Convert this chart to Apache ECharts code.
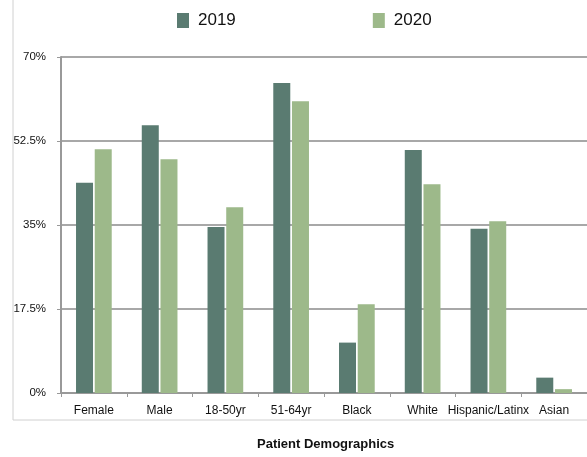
<!DOCTYPE html>
<html>
<head>
<meta charset="utf-8">
<script src="https://cdn.jsdelivr.net/npm/echarts@6/dist/echarts.min.js"></script>
<style>
  html, body { margin: 0; padding: 0; background: #fff; }
  #main { width: 587px; height: 457px; }
</style>
</head>
<body>
<div id="main"></div>
<script>
// 数据
var categories = ['Female', 'Male', '18-50yr', '51-64yr', 'Black', 'White', 'Hispanic/Latinx', 'Asian'];
var values2019 = [43.8, 55.8, 34.6, 64.6, 10.5, 50.6, 34.2, 3.2];
var values2020 = [50.8, 48.7, 38.7, 60.8, 18.5, 43.5, 35.8, 0.8];
var yTicks = ['0%', '17.5%', '35%', '52.5%', '70%'];

var font = '"Liberation Sans", Arial, sans-serif';

var myChart = echarts.init(document.getElementById('main'));

var option = {
  animation: false,
  title: {
    text: 'Patient Demographics',
    left: 257,
    top: 438,
    padding: 0,
    textStyle: { fontFamily: font, fontSize: 13, fontWeight: 'bold', color: '#111' }
  },
  legend: {
    top: 12,
    left: 177,
    padding: 0,
    itemGap: 137,
    itemWidth: 12,
    itemHeight: 15,
    icon: 'rect',
    data: ['2019', '2020'],
    textStyle: { fontFamily: font, fontSize: 17, color: '#111', padding: [0, 0, 0, 4] }
  },
  graphic: [{
    type: 'rect',
    shape: { x: 13, y: -5, width: 600, height: 425 },
    style: { fill: 'none', stroke: '#d0d0d0', lineWidth: 1 },
    silent: true
  }],
  grid: { left: 61, right: 0, top: 57, bottom: 64 },
  xAxis: {
    type: 'category',
    data: categories,
    axisLine: { lineStyle: { color: '#999', width: 2 } },
    axisTick: { show: true, length: 4, lineStyle: { color: '#999' } },
    axisLabel: { fontFamily: font, fontSize: 12, color: '#111', margin: 12, interval: 0 }
  },
  yAxis: {
    type: 'value',
    min: 0,
    max: 70,
    interval: 17.5,
    axisLine: { show: true, lineStyle: { color: '#999', width: 2 } },
    axisTick: { show: true, length: 4, lineStyle: { color: '#999' } },
    splitLine: { lineStyle: { color: '#a8a8a8', width: 2 } },
    axisLabel: {
      fontFamily: font, fontSize: 11.5, color: '#111', margin: 15,
      formatter: function (v) { return yTicks[Math.round(v / 17.5)]; }
    }
  },
  series: [
    {
      name: '2019',
      type: 'bar',
      data: values2019,
      barWidth: 17,
      barGap: '10%',
      itemStyle: { color: '#5a7b71' }
    },
    {
      name: '2020',
      type: 'bar',
      data: values2020,
      barWidth: 17,
      itemStyle: { color: '#9db98a' }
    }
  ]
};

myChart.setOption(option);
</script>
</body>
</html>
